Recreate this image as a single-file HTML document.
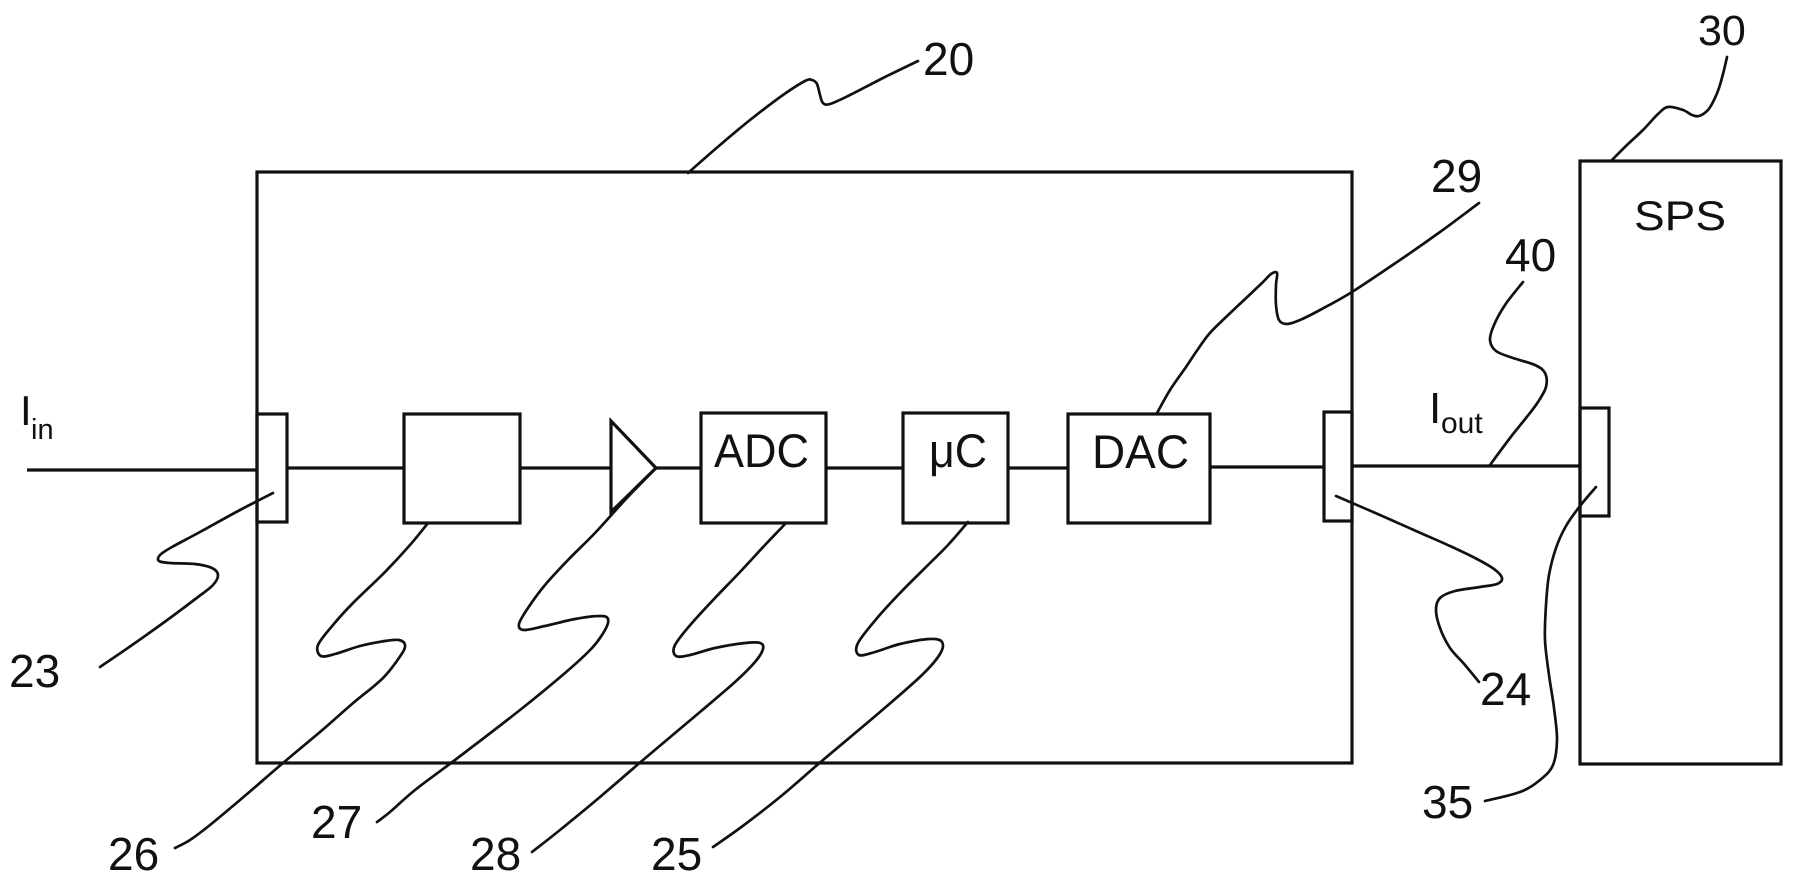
<!DOCTYPE html>
<html>
<head>
<meta charset="utf-8">
<style>
  html, body { margin: 0; padding: 0; background: #fff; }
  body { width: 1798px; height: 885px; overflow: hidden; }
  svg { display: block; }
  text { font-family: "Liberation Sans", "DejaVu Sans", sans-serif; fill: #111; }
</style>
</head>
<body>
<svg id="dg" width="1798" height="885" viewBox="0 0 1798 885" xmlns="http://www.w3.org/2000/svg">
  <rect x="0" y="0" width="1798" height="885" fill="#fff"/>

  <g fill="none" stroke="#111" stroke-width="3.2" stroke-linejoin="miter">
    <!-- main box 20 -->
    <rect x="257" y="172" width="1095" height="591"/>
    <!-- SPS box 30 -->
    <rect x="1580" y="161" width="201" height="603"/>

    <!-- signal line -->
    <line x1="27" y1="470" x2="257" y2="470"/>
    <line x1="287" y1="468" x2="404" y2="468"/>
    <line x1="520" y1="468" x2="611" y2="468"/>
    <line x1="656" y1="468" x2="701" y2="468"/>
    <line x1="826" y1="468" x2="903" y2="468"/>
    <line x1="1008" y1="468" x2="1068" y2="468"/>
    <line x1="1210" y1="467" x2="1324" y2="467"/>
    <line x1="1352" y1="466" x2="1580" y2="466"/>

    <!-- small box 23 -->
    <rect x="257" y="414" width="30" height="108"/>
    <!-- box 26 -->
    <rect x="404" y="414" width="116" height="109"/>
    <!-- amplifier 27 -->
    <polygon points="611,421 611,512 656,468"/>
    <!-- ADC -->
    <rect x="701" y="413" width="125" height="110"/>
    <!-- uC -->
    <rect x="903" y="413" width="105" height="110"/>
    <!-- DAC -->
    <rect x="1068" y="414" width="142" height="109"/>
    <!-- small box 24 -->
    <rect x="1324" y="412" width="28" height="109"/>
    <!-- SPS small box 35 -->
    <rect x="1580" y="408" width="29" height="108"/>
  </g>

  <!-- leader lines -->
  <g id="leaders" fill="none" stroke="#111" stroke-width="2.7" stroke-linejoin="round" stroke-linecap="round">
    <!-- 20 -->
    <polyline class="lead" points="688,173 720,145 750,120 783,95 805,81 812,80 817,84 820,95 823,103 830,104 850,95 883,78 918,61"/>
    <!-- 30 -->
    <polyline class="lead" points="1612,160 1628,144 1643,130 1658,114 1668,107 1683,110 1692,115 1699,116 1708,110 1714,100 1719,88 1724,70 1727,57"/>
    <!-- 29 -->
    <polyline class="lead" points="1479,203 1440,232 1400,260 1352,292 1320,310 1300,320 1287,324 1279,320 1276,305 1276,285 1277,273 1271,274 1262,283 1243,301 1225,318 1209,334 1196,352 1186,367 1170,390 1157,413"/>
    <!-- 40 -->
    <polyline class="lead" points="1523,282 1505,305 1494,325 1490,340 1496,351 1513,358 1535,365 1545,373 1546,387 1538,402 1526,418 1510,438 1490,465"/>
    <!-- 23 -->
    <polyline class="lead" points="273,493 240,510 200,532 172,547 160,555 159,561 170,563 195,564 212,568 218,575 213,585 198,597 170,618 135,643 100,667"/>
    <!-- 26 -->
    <polyline class="lead" points="428,523 410,545 385,572 353,603 333,625 318,645 321,656 335,654 360,646 385,641 399,640 405,645 401,655 383,678 352,704 320,732 283,763 240,800 210,825 190,840 175,848"/>
    <!-- 27 -->
    <polyline class="lead" points="654,470 625,500 595,533 568,560 545,585 528,608 519,624 524,630 545,626 575,619 600,616 608,619 605,630 592,648 565,673 520,710 455,760 415,790 390,812 377,822"/>
    <!-- 28 -->
    <polyline class="lead" points="786,523 765,545 740,572 715,598 692,623 675,645 676,656 690,655 715,648 745,643 760,643 763,649 755,662 735,682 700,712 643,760 600,797 560,830 532,852"/>
    <!-- 25 -->
    <polyline class="lead" points="968,522 948,545 925,568 900,593 878,617 858,643 859,655 875,652 900,644 930,639 942,642 940,654 922,675 880,712 823,760 780,797 740,828 713,847"/>
    <!-- 24 -->
    <polyline class="lead" points="1336,496 1380,515 1416,531 1450,546 1475,558 1494,569 1502,578 1497,584 1480,587 1455,591 1440,598 1436,610 1440,628 1450,648 1465,665 1479,682"/>
    <!-- 35 -->
    <polyline class="lead" points="1596,487 1580,506 1566,526 1556,548 1549,575 1546,605 1545,640 1549,675 1554,708 1557,740 1553,765 1540,780 1520,792 1485,801"/>
  </g>

  <!-- labels -->
  <g font-size="46">
    <text x="923" y="75">20</text>
    <text x="1698" y="45" font-size="43">30</text>
    <text x="1431" y="192">29</text>
    <text x="1505" y="271">40</text>
    <text x="9" y="687">23</text>
    <text x="108" y="870">26</text>
    <text x="311" y="838">27</text>
    <text x="470" y="870">28</text>
    <text x="651" y="870">25</text>
    <text x="1480" y="705">24</text>
    <text x="1422" y="818">35</text>
  </g>

  <!-- block texts -->
  <text x="714" y="467" font-size="47" textLength="95" lengthAdjust="spacingAndGlyphs">ADC</text>
  <text x="929" y="467" font-size="47" textLength="58" lengthAdjust="spacingAndGlyphs">μC</text>
  <text x="1092" y="468" font-size="47" textLength="97" lengthAdjust="spacingAndGlyphs">DAC</text>
  <text x="1634" y="230" font-size="42" textLength="92" lengthAdjust="spacingAndGlyphs">SPS</text>

  <!-- I_in -->
  <text x="20" y="425" font-size="42">I</text>
  <text x="31" y="439" font-size="29">in</text>
  <!-- I_out -->
  <text x="1429" y="423" font-size="44">I</text>
  <text x="1441" y="433" font-size="30">out</text>
</svg>
<script>
(function(){
  var NS = "http://www.w3.org/2000/svg";
  var lines = document.querySelectorAll("polyline.lead");
  for (var i = 0; i < lines.length; i++) {
    var pl = lines[i];
    var raw = pl.getAttribute("points").trim().split(/\s+/);
    var p = raw.map(function(s){ var a = s.split(","); return [parseFloat(a[0]), parseFloat(a[1])]; });
    if (p.length < 3) continue;
    var d = "M" + p[0][0] + "," + p[0][1];
    for (var k = 0; k < p.length - 1; k++) {
      var p0 = p[k - 1] || p[k], p1 = p[k], p2 = p[k + 1], p3 = p[k + 2] || p[k + 1];
      var c1x = p1[0] + (p2[0] - p0[0]) / 6, c1y = p1[1] + (p2[1] - p0[1]) / 6;
      var c2x = p2[0] - (p3[0] - p1[0]) / 6, c2y = p2[1] - (p3[1] - p1[1]) / 6;
      d += " C" + c1x.toFixed(1) + "," + c1y.toFixed(1) + " " + c2x.toFixed(1) + "," + c2y.toFixed(1) + " " + p2[0] + "," + p2[1];
    }
    var path = document.createElementNS(NS, "path");
    path.setAttribute("d", d);
    pl.parentNode.replaceChild(path, pl);
  }
})();
</script>
</body>
</html>
